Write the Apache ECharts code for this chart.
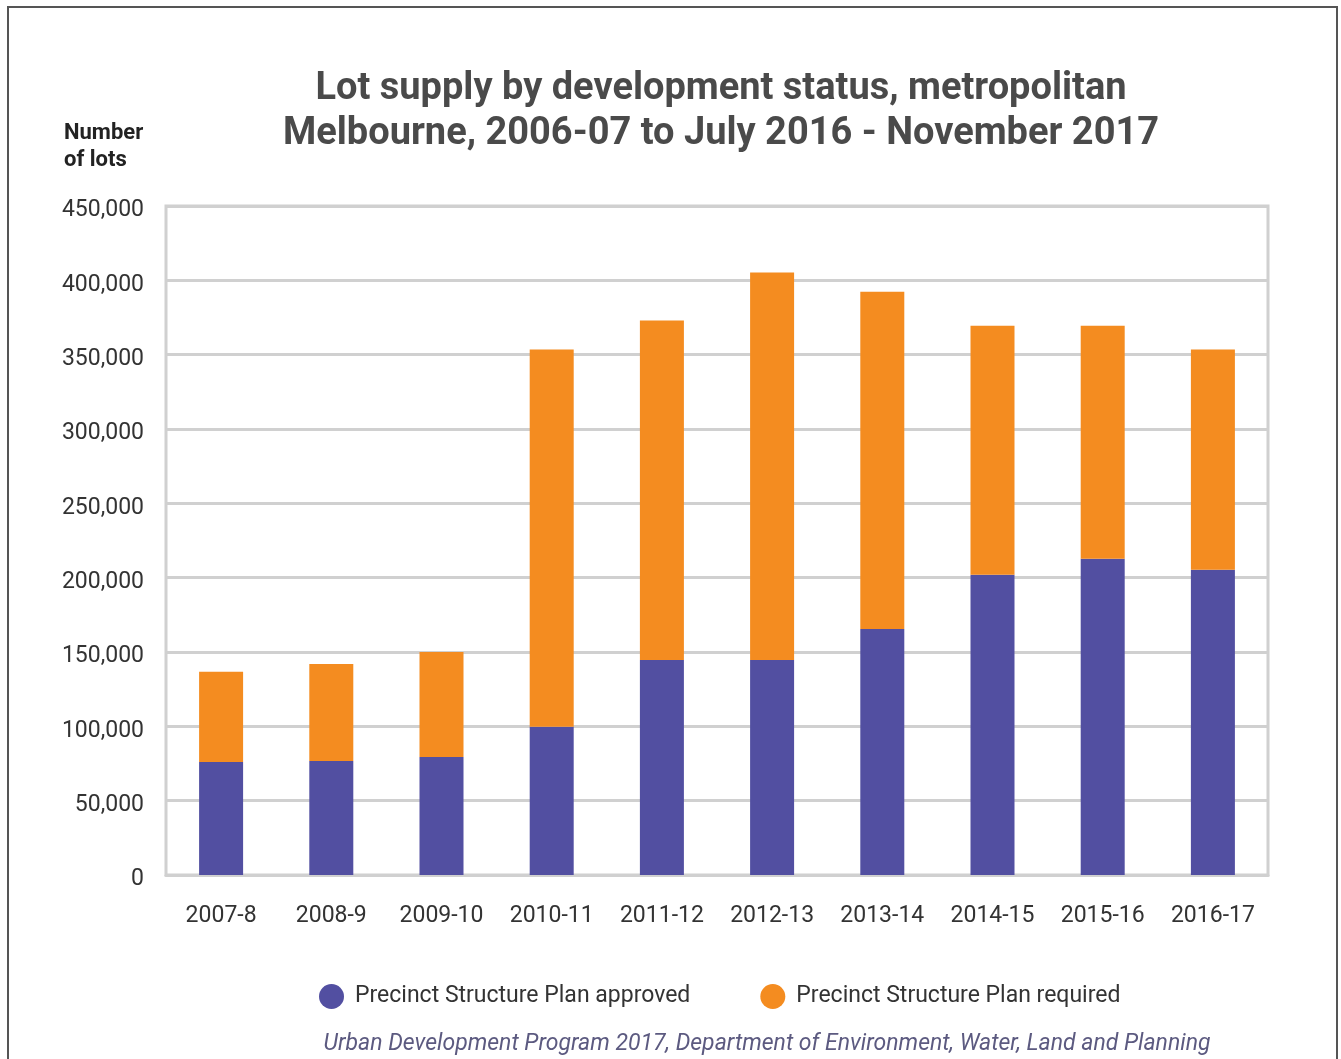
<!DOCTYPE html>
<html><head><meta charset="utf-8">
<script src="https://cdn.jsdelivr.net/npm/echarts@6/dist/echarts.min.js"></script>
<style>html,body{margin:0;padding:0;background:#fff}#c{width:1341px;height:1059px}</style>
</head><body><div id="c"></div>
<script>
const categories = ['2007-8','2008-9','2009-10','2010-11','2011-12','2012-13','2013-14','2014-15','2015-16','2016-17'];
const approved = [76000, 76700, 79400, 99700, 144700, 144700, 165500, 202000, 212700, 205300];
const totals   = [136700, 142000, 150000, 353400, 372900, 405200, 392300, 369500, 369500, 353400];
const required = totals.map((t, i) => t - approved[i]);
const yTicks = [0, 50000, 100000, 150000, 200000, 250000, 300000, 350000, 400000, 450000];
const seriesNames = ['Precinct Structure Plan approved', 'Precinct Structure Plan required'];
const titleLines = ['Lot supply by development status, metropolitan', 'Melbourne, 2006-07 to July 2016 - November 2017'];
const sourceText = 'Urban Development Program 2017, Department of Environment, Water, Land and Planning';

const chart = echarts.init(document.getElementById('c'));
const font = 'Roboto, "Noto Sans", sans-serif';
chart.setOption({
  animation: false,
  backgroundColor: '#fff',
  title: {
    text: titleLines.join('\n'),
    left: 716, top: 62, textAlign: 'center',
    textStyle: { fontFamily: font, fontSize: 38, fontWeight: 'bold', color: '#4a4a4a', lineHeight: 45 }
  },
  graphic: [
    { type: 'rect', shape: { x: 8, y: 7, width: 1329, height: 1070 }, style: { fill: 'none', stroke: '#555', lineWidth: 2 }, silent: true },
    { type: 'text', x: 64, y: 120, style: { text: 'Number\nof lots', font: 'bold 22px ' + font, fill: '#222', lineHeight: 27 } },
    { type: 'text', x: 767, y: 1044, style: { text: sourceText, font: 'italic 23px ' + font, fill: '#5c5a80', align: 'center', verticalAlign: 'middle' } }
  ],
  legend: {
    data: seriesNames, left: 314, top: 979, itemGap: 70,
    icon: 'circle', itemWidth: 25, itemHeight: 25,
    textStyle: { fontFamily: font, fontSize: 23, color: '#333', padding: [0, 0, 0, 6] }
  },
  grid: { left: 166, right: 73, top: 206, bottom: 184, show: true, borderColor: '#d0d0d0', borderWidth: 3, containLabel: false },
  xAxis: {
    type: 'category', data: categories,
    axisLine: { lineStyle: { color: '#d0d0d0', width: 3 } },
    axisTick: { show: false },
    axisLabel: { fontFamily: font, fontSize: 23, color: '#333', margin: 30 }
  },
  yAxis: {
    type: 'value', min: 0, max: 450000, interval: 50000,
    axisLine: { show: false }, axisTick: { show: false },
    splitLine: { lineStyle: { color: '#d0d0d0', width: 3 } },
    axisLabel: { color: '#333', margin: 22,
      formatter: v => yTicks.includes(v) ? '{a|' + v.toLocaleString('en-US') + '}' : '',
      rich: { a: { fontFamily: font, fontSize: 23, color: '#333', padding: [9, 0, 0, 0] } } }
  },
  series: [
    { name: seriesNames[0], type: 'bar', stack: 's', data: approved, barWidth: 44, itemStyle: { color: '#524FA1' } },
    { name: seriesNames[1], type: 'bar', stack: 's', data: required, barWidth: 44, itemStyle: { color: '#F48C20' } }
  ]
});
</script></body></html>
